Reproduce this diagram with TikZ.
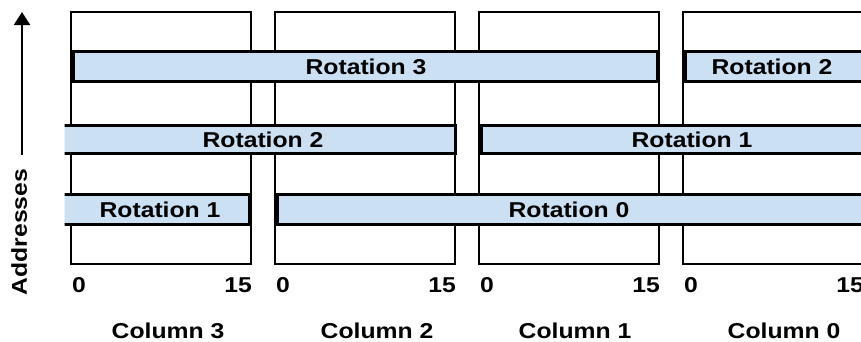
\documentclass[tikz,border=0pt]{standalone}
\usepackage{fontspec}
\setmainfont{Liberation Sans}[FakeStretch=1.15]
\usetikzlibrary{arrows.meta}

\definecolor{barblue}{HTML}{CCE0F4}

\tikzset{
  colbox/.style={line width=2pt},
  rotbar/.style={fill=barblue, line width=3pt},
  lbl/.style={font=\bfseries\fontsize{21.5}{24}\selectfont, inner sep=0pt},
}

\begin{document}
\begin{tikzpicture}[x=1pt, y=-1pt]
  \useasboundingbox (0,0) rectangle (861,341);
  \clip (0,0) rectangle (861,341);
  % columns 3 .. 0
  \foreach \c/\x/\lx in {3/71/168, 2/275/377, 1/479/575, 0/683/784} {
    \draw[colbox] (\x,12) rectangle ++(180,252);
    \node[lbl, anchor=base west] (zero\c) at (\x+1,292) {0};
    \node[lbl, anchor=base east] (fifteen\c) at (\x+181,292) {15};
    \node[lbl, anchor=base] (col\c) at (\lx,338) {Column \c};
  }
  % rotations
  \begin{scope}
    \clip (64.5,0) rectangle (861,341);
    \draw[rotbar] (73,51.5) rectangle (657,81.5);
    \draw[rotbar] (685,51.5) rectangle (900,81.5);
    \draw[rotbar] (40,125.5) rectangle (455.5,153.5);
    \draw[rotbar] (481.5,125.5) rectangle (900,153.5);
    \draw[rotbar] (40,194.5) rectangle (249.5,224.5);
    \draw[rotbar] (277.5,194.5) rectangle (900,224.5);
  \end{scope}
  \node[lbl] (rotthree) at (366,67) {Rotation 3};
  \node[lbl] (rottwoa) at (772,67) {Rotation 2};
  \node[lbl] (rottwob) at (263,140) {Rotation 2};
  \node[lbl] (rotonea) at (692,140) {Rotation 1};
  \node[lbl] (roteneb) at (160,210) {Rotation 1};
  \node[lbl] (rotzero) at (569,210) {Rotation 0};
  % address axis
  \coordinate (addrlow) at (22,155);
  \coordinate (addrtop) at (22,12);
  \draw[line width=2pt, -{Triangle[length=13pt, width=16pt]}] (addrlow) -- (addrtop);
  \node[lbl, rotate=90, anchor=base] (addr) at (27,232) {Addresses};
\end{tikzpicture}
\end{document}
